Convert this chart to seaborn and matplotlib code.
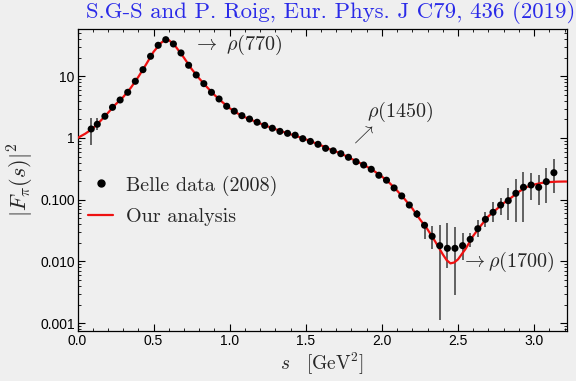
import matplotlib
matplotlib.use("Agg")
import matplotlib.pyplot as plt
import seaborn as sns
import pandas as pd
from matplotlib.lines import Line2D

# ---------------- data ----------------
s_data = [0.09, 0.13, 0.18, 0.23, 0.28, 0.33, 0.38, 0.43, 0.48, 0.53,
          0.58, 0.63, 0.68, 0.73, 0.78, 0.83, 0.88, 0.93, 0.98, 1.03,
          1.08, 1.13, 1.18, 1.23, 1.28, 1.33, 1.38, 1.43, 1.48, 1.53,
          1.58, 1.63, 1.68, 1.73, 1.78, 1.83, 1.88, 1.93, 1.98, 2.03,
          2.08, 2.13, 2.18, 2.23, 2.28, 2.33, 2.38, 2.43, 2.48, 2.53,
          2.58, 2.63, 2.68, 2.73, 2.78, 2.83, 2.88, 2.93, 2.98, 3.03,
          3.08, 3.13]
F2_data = [1.40, 1.67, 2.25, 3.14, 4.13, 5.5, 8.3, 12.8, 21.1, 31.8,
           39.2, 33.4, 23.9, 15.1, 10.5, 7.6, 5.5, 4.29, 3.27, 2.72,
           2.30, 2.03, 1.80, 1.60, 1.44, 1.28, 1.19, 1.11, 0.975, 0.88,
           0.79, 0.68, 0.62, 0.557, 0.487, 0.413, 0.365, 0.311, 0.249, 0.207,
           0.155, 0.115, 0.082, 0.0586, 0.0385, 0.0255, 0.0180, 0.0163, 0.0163, 0.0180,
           0.0228, 0.0339, 0.048, 0.0625, 0.082, 0.0964, 0.127, 0.159, 0.173, 0.159,
           0.196, 0.274]
err_lo = [0.76, 1.36, 2.05, 3.0, 4.0, 5.4, 8.1, 12.5, 20.6, 31.0,
          38.3, 32.6, 23.3, 14.7, 10.2, 7.4, 5.35, 4.17, 3.17, 2.64,
          2.23, 1.97, 1.74, 1.55, 1.39, 1.24, 1.15, 1.07, 0.94, 0.85,
          0.76, 0.655, 0.595, 0.535, 0.467, 0.395, 0.348, 0.296, 0.236, 0.195,
          0.145, 0.106, 0.074, 0.051, 0.0228, 0.0161, 0.00112, 0.0078, 0.00284, 0.0106,
          0.0173, 0.0246, 0.0357, 0.044, 0.0565, 0.047, 0.044, 0.044, 0.099, 0.082,
          0.089, 0.127]
err_hi = [2.1, 2.1, 2.5, 3.3, 4.3, 5.65, 8.5, 13.1, 21.6, 32.6,
          40.1, 34.2, 24.5, 15.5, 10.8, 7.8, 5.65, 4.41, 3.37, 2.80,
          2.37, 2.09, 1.86, 1.65, 1.49, 1.32, 1.23, 1.15, 1.01, 0.91,
          0.82, 0.705, 0.645, 0.58, 0.507, 0.431, 0.382, 0.326, 0.262, 0.22,
          0.165, 0.125, 0.091, 0.067, 0.0404, 0.0375, 0.039, 0.0424, 0.0365, 0.029,
          0.0286, 0.047, 0.064, 0.093, 0.108, 0.156, 0.214, 0.285, 0.268, 0.252,
          0.322, 0.45]

s_curve = [0.00, 0.05, 0.10, 0.15, 0.20, 0.25, 0.30, 0.35, 0.40, 0.45,
           0.50, 0.55, 0.58, 0.60, 0.63, 0.65, 0.70, 0.75, 0.80, 0.85,
           0.90, 0.95, 1.00, 1.05, 1.10, 1.15, 1.20, 1.25, 1.30, 1.35,
           1.40, 1.45, 1.50, 1.55, 1.60, 1.65, 1.70, 1.75, 1.80, 1.85,
           1.90, 1.95, 2.00, 2.05, 2.10, 2.15, 2.20, 2.25, 2.30, 2.35,
           2.40, 2.425, 2.45, 2.475, 2.50, 2.55, 2.60, 2.65, 2.70, 2.75,
           2.80, 2.85, 2.90, 2.95, 3.00, 3.05, 3.10, 3.15, 3.20, 3.25]
F2_curve = [1.00, 1.17, 1.42, 1.88, 2.55, 3.5, 4.6, 6.5, 9.8, 15.5,
            25.0, 35.0, 39.5, 38.5, 33.5, 29.2, 19.9, 13.1, 9.2, 6.7,
            4.98, 3.85, 3.04, 2.52, 2.17, 1.93, 1.72, 1.54, 1.39, 1.26,
            1.15, 1.05, 0.95, 0.85, 0.76, 0.67, 0.60, 0.53, 0.46, 0.40,
            0.345, 0.29, 0.237, 0.187, 0.14, 0.102, 0.072, 0.048, 0.033, 0.021,
            0.013, 0.0105, 0.0093, 0.0096, 0.0108, 0.016, 0.026, 0.038, 0.054, 0.069,
            0.088, 0.108, 0.135, 0.16, 0.176, 0.187, 0.193, 0.196, 0.197, 0.197]

x_ticks = [0.0, 0.5, 1.0, 1.5, 2.0, 2.5, 3.0]
x_tick_labels = ["0.0", "0.5", "1.0", "1.5", "2.0", "2.5", "3.0"]
y_ticks = [0.001, 0.01, 0.1, 1, 10]
y_tick_labels = ["0.001", "0.010", "0.100", "1", "10"]

title = "S.G-S and P. Roig, Eur. Phys. J C79, 436 (2019)"

# ---------------- styling ----------------
sns.set_theme(style="ticks")
plt.rcParams["font.family"] = ["Liberation Sans", "DejaVu Sans"]
plt.rcParams["mathtext.fontset"] = "cm"
BG = "#efefef"

fig = plt.figure(figsize=(5.76, 3.81), dpi=100, facecolor=BG)
L, R, T, B = 77.5, 567.0, 29.0, 331.0
ax = fig.add_axes([L / 576, 1 - B / 381, (R - L) / 576, (B - T) / 381])
ax.set_facecolor(BG)

df_data = pd.DataFrame({"s": s_data, "F2": F2_data, "lo": err_lo, "hi": err_hi})
df_curve = pd.DataFrame({"s": s_curve, "F2": F2_curve})

ax.vlines(df_data["s"], df_data["lo"], df_data["hi"], color="#3a3a3a", lw=1.1, zorder=2)
sns.lineplot(data=df_curve, x="s", y="F2", color="#ee1111", lw=1.6, ax=ax, zorder=3,
             legend=False)
sns.scatterplot(data=df_data, x="s", y="F2", color="black", s=26, edgecolor="none",
                ax=ax, zorder=4, legend=False)

ax.set_yscale("log")
ax.set_xlim(0, 3.216)
ax.set_ylim(7.45e-4, 58.4)
ax.set_xticks(x_ticks, labels=x_tick_labels)
ax.set_yticks(y_ticks, labels=y_tick_labels)
ax.xaxis.set_minor_locator(matplotlib.ticker.MultipleLocator(0.1))
ax.yaxis.set_minor_locator(matplotlib.ticker.LogLocator(base=10, subs=range(2, 10), numticks=20))
ax.yaxis.set_minor_formatter(matplotlib.ticker.NullFormatter())
ax.tick_params(which="both", direction="in", top=True, right=True, color="black",
               labelsize=10, labelcolor="black")
ax.tick_params(which="major", length=5, width=0.8, pad=2)
ax.tick_params(which="minor", length=2.5, width=0.6)
for sp in ax.spines.values():
    sp.set_color("black")
    sp.set_linewidth(0.9)

ax.set_xlabel(r"$s\quad[\mathrm{GeV}^2]$", fontsize=14, labelpad=2)
ax.set_ylabel(r"$|F_\pi(s)|^2$", fontsize=16, labelpad=3)

# annotations
ax.text(0.76, 32, r"$\rightarrow\ \rho(770)$", fontsize=14.5, va="center", ha="left")
ax.text(1.905, 2.64, r"$\rho(1450)$", fontsize=14.5, va="center", ha="left")
ax.text(1.87, 1.16, r"$\nearrow$", fontsize=14, va="center", ha="center")
ax.text(2.52, 0.0098, r"$\rightarrow\rho(1700)$", fontsize=14.5, va="center", ha="left")

handles = [Line2D([], [], ls="none", marker="o", color="black", markersize=5),
           Line2D([], [], color="#ee1111", lw=1.6)]
ax.legend(handles, ["Belle data (2008)", "Our analysis"], loc="upper left",
          bbox_to_anchor=(0.0215, 0.515), frameon=False, prop={"family": "cmr10", "size": 14.5},
          handlelength=1.25, handletextpad=0.65, labelspacing=0.62, borderaxespad=0,
          borderpad=0)

fig.text(0.9995, 0.968, title, ha="right", va="center", color="#2a2ae8",
         family="cmr10", fontsize=16.4)

fig.savefig("out.png", dpi=100, facecolor=BG)
